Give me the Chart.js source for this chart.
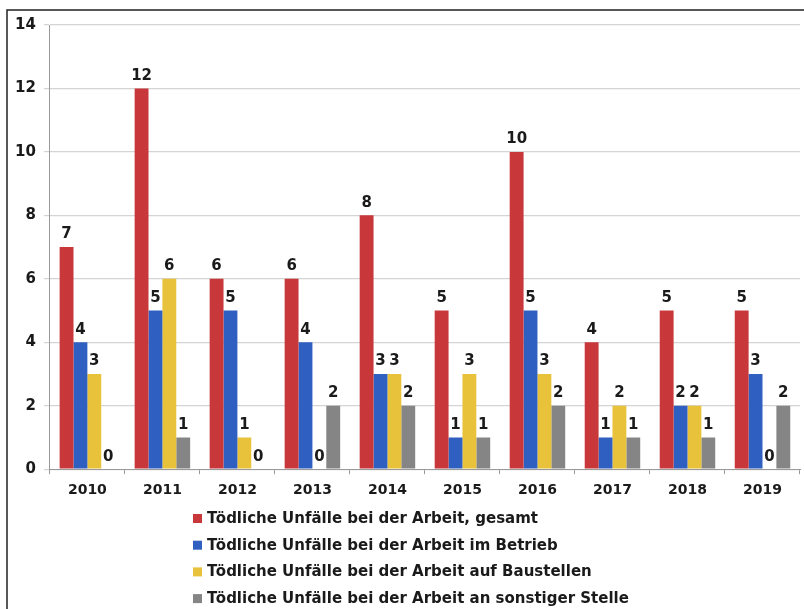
<!DOCTYPE html>
<html>
<head>
<meta charset="utf-8">
<script src="https://cdn.jsdelivr.net/npm/chart.js@4"></script>
<style>
  html, body { margin: 0; padding: 0; background: #fff; }
  #wrap { width: 804px; height: 609px; position: relative; }
</style>
</head>
<body>
<div id="wrap"><canvas id="myChart" width="804" height="609"></canvas></div>
<script>
// Jahre
var years = ['2010', '2011', '2012', '2013', '2014', '2015', '2016', '2017', '2018', '2019'];

// Werte je Reihe
var gesamt    = [7, 12, 6, 6, 8, 5, 10, 4, 5, 5];
var betrieb   = [4, 5, 5, 4, 3, 1, 5, 1, 2, 3];
var baustelle = [3, 6, 1, 0, 3, 3, 3, 2, 2, 0];
var sonstige  = [0, 1, 0, 2, 2, 1, 2, 1, 1, 2];

var seriesNames = [
    'Tödliche Unfälle bei der Arbeit, gesamt',
    'Tödliche Unfälle bei der Arbeit im Betrieb',
    'Tödliche Unfälle bei der Arbeit auf Baustellen',
    'Tödliche Unfälle bei der Arbeit an sonstiger Stelle'
];
var yTicks = [0, 2, 4, 6, 8, 10, 12, 14];

var colors = ['#c8373a', '#2f5fc0', '#e9c23c', '#858585'];
var FONT = '"DejaVu Sans", Arial, sans-serif';

// Rahmen oben/links
var framePlugin = {
    id: 'frame',
    beforeDraw: function(chart) {
        var c = chart.ctx;
        c.save();
        c.strokeStyle = '#222';
        c.lineWidth = 1.5;
        c.beginPath();
        c.moveTo(7, chart.height + 2);
        c.lineTo(7, 10);
        c.lineTo(chart.width + 2, 10);
        c.stroke();
        c.restore();
    }
};

// Werte ueber den Saeulen
var valuePlugin = {
    id: 'values',
    afterDatasetsDraw: function(chart) {
        var c = chart.ctx;
        c.save();
        c.font = 'bold 15px ' + FONT;
        c.fillStyle = '#1a1a1a';
        c.textAlign = 'center';
        c.textBaseline = 'bottom';
        chart.data.datasets.forEach(function(ds, i) {
            chart.getDatasetMeta(i).data.forEach(function(bar, j) {
                c.fillText(String(ds.data[j]), bar.x, bar.y - 5);
            });
        });
        c.restore();
    }
};

// Legende untereinander
var legendPlugin = {
    id: 'vlegend',
    afterDraw: function(chart) {
        var c = chart.ctx;
        c.save();
        c.font = 'bold 15px ' + FONT;
        c.textBaseline = 'middle';
        c.textAlign = 'left';
        var x = 193, y = 518, step = 26.7;
        chart.data.datasets.forEach(function(ds, i) {
            var yy = y + i * step;
            c.fillStyle = ds.backgroundColor;
            c.fillRect(x, yy - 4, 9, 9);
            c.fillStyle = '#1a1a1a';
            c.fillText(ds.label, x + 14, yy + 1);
        });
        c.restore();
    }
};

function main() {
    var ctx = document.getElementById('myChart').getContext('2d');
    var all = [gesamt, betrieb, baustelle, sonstige];
    var datasets = all.map(function(d, i) {
        return {
            label: seriesNames[i],
            data: d,
            backgroundColor: colors[i],
            borderWidth: 0,
            categoryPercentage: 0.74,
            barPercentage: 1.0
        };
    });
    new Chart(ctx, {
        type: 'bar',
        data: { labels: years, datasets: datasets },
        options: {
            responsive: false,
            animation: false,
            layout: { padding: { top: 25, left: 7, right: 4, bottom: 102 } },
            plugins: {
                legend: { display: false },
                tooltip: { enabled: false }
            },
            scales: {
                x: {
                    grid: { drawOnChartArea: false, drawTicks: true, tickLength: 5, color: '#9a9a9a', offset: true },
                    border: { color: '#9a9a9a' },
                    ticks: { color: '#1a1a1a', font: { family: FONT, size: 14, weight: 'bold' }, padding: 8 }
                },
                y: {
                    min: 0, max: 14,
                    afterBuildTicks: function(axis) {
                        axis.ticks = yTicks.map(function(v) { return { value: v }; });
                    },
                    grid: { color: '#d4d4d4', lineWidth: 1.2, tickLength: 6 },
                    border: { color: '#9a9a9a' },
                    ticks: { color: '#1a1a1a', font: { family: FONT, size: 15, weight: 'bold' }, padding: 8 }
                }
            }
        },
        plugins: [framePlugin, valuePlugin, legendPlugin]
    });
}

document.addEventListener('DOMContentLoaded', function() {
    main();
});
</script>
</body>
</html>
